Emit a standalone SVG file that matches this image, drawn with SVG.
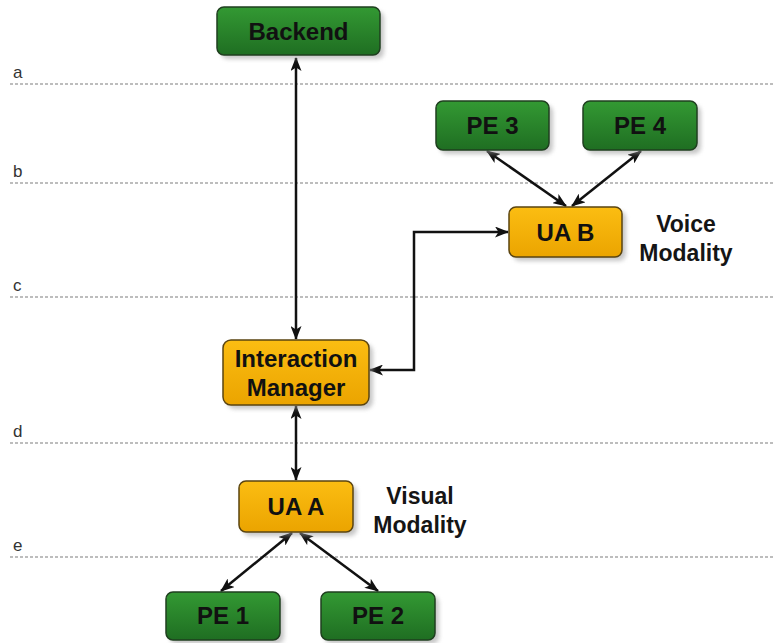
<svg xmlns="http://www.w3.org/2000/svg" width="775" height="643" viewBox="0 0 775 643">
<style>
.lvl{stroke:#a8a8a8;stroke-width:1.5;stroke-dasharray:3 2;fill:none}
.lbl{font-family:"Liberation Sans",Arial,sans-serif;font-size:17px;fill:#333}
.g{fill:url(#gg);stroke:#1f3f1f;stroke-width:1.5}
.o{fill:url(#og);stroke:#5a4410;stroke-width:1.5}
.sh{fill:#999;opacity:0.55;filter:url(#blur)}
.t{font-family:"Liberation Sans",Arial,sans-serif;font-weight:bold;font-size:24px;fill:#111;text-anchor:middle}
.m{font-family:"Liberation Sans",Arial,sans-serif;font-weight:bold;font-size:23px;fill:#151515;text-anchor:middle}
.c{stroke:#111;stroke-width:2.5;fill:none;marker-start:url(#ah);marker-end:url(#ah)}
</style>
<defs>
<linearGradient id="gg" x1="0" y1="0" x2="0" y2="1"><stop offset="0" stop-color="#339933"/><stop offset="1" stop-color="#1f6e22"/></linearGradient>
<linearGradient id="og" x1="0" y1="0" x2="0" y2="1"><stop offset="0" stop-color="#fbbd12"/><stop offset="1" stop-color="#eba400"/></linearGradient>
<filter id="blur" x="-10%" y="-10%" width="120%" height="130%"><feGaussianBlur stdDeviation="2"/></filter>
<marker id="ah" viewBox="0 0 14 11" refX="13" refY="5.5" markerWidth="14" markerHeight="11" markerUnits="userSpaceOnUse" orient="auto-start-reverse"><path d="M0,0 L14,5.5 L0,11 L3.5,5.5 Z" fill="#111"/></marker>
</defs>
<rect width="775" height="643" fill="#fff"/>
<g id="levels">
<line class="lvl" x1="10" y1="84" x2="775" y2="84"/>
<line class="lvl" x1="10" y1="183" x2="775" y2="183"/>
<line class="lvl" x1="10" y1="297" x2="775" y2="297"/>
<line class="lvl" x1="10" y1="443" x2="775" y2="443"/>
<line class="lvl" x1="10" y1="557" x2="775" y2="557"/>
<text class="lbl" x="13" y="78">a</text>
<text class="lbl" x="13" y="177">b</text>
<text class="lbl" x="13" y="291">c</text>
<text class="lbl" x="13" y="437">d</text>
<text class="lbl" x="13" y="551">e</text>
</g>
<g id="connectors">
<line class="c" x1="296" y1="58" x2="296" y2="339"/>
<line class="c" x1="296" y1="406" x2="296" y2="480"/>
<polyline class="c" points="508,232 414,232 414,370 370,370"/>
<line class="c" x1="487" y1="151" x2="566" y2="206"/>
<line class="c" x1="641" y1="151" x2="572" y2="206"/>
<line class="c" x1="292" y1="533" x2="221" y2="591"/>
<line class="c" x1="300" y1="533" x2="378" y2="591"/>
</g>
<g id="backend"><rect class="sh" x="221" y="11" width="163" height="48" rx="7"/><rect class="g" x="217" y="7" width="163" height="48" rx="7"/><text class="t" x="298.5" y="39.5">Backend</text></g>
<g id="pe3"><rect class="sh" x="440" y="105" width="113" height="49" rx="7"/><rect class="g" x="436" y="101" width="113" height="49" rx="7"/><text class="t" x="492.5" y="134">PE 3</text></g>
<g id="pe4"><rect class="sh" x="587" y="105" width="114" height="49" rx="7"/><rect class="g" x="583" y="101" width="114" height="49" rx="7"/><text class="t" x="640" y="134">PE 4</text></g>
<g id="uab"><rect class="sh" x="513" y="211" width="113" height="50" rx="7"/><rect class="o" x="509" y="207" width="113" height="50" rx="7"/><text class="t" x="565.5" y="240.5">UA B</text></g>
<g id="voice"><text class="m" x="686" y="232">Voice</text><text class="m" x="686" y="261">Modality</text></g>
<g id="im"><rect class="sh" x="227" y="344" width="146" height="65" rx="8"/><rect class="o" x="223" y="340" width="146" height="65" rx="8"/><text class="t" x="296" y="367">Interaction</text><text class="t" x="296" y="396">Manager</text></g>
<g id="uaa"><rect class="sh" x="243" y="485" width="114" height="51" rx="7"/><rect class="o" x="239" y="481" width="114" height="51" rx="7"/><text class="t" x="296" y="515">UA A</text></g>
<g id="visual"><text class="m" x="420" y="504">Visual</text><text class="m" x="420" y="533">Modality</text></g>
<g id="pe1"><rect class="sh" x="170" y="596" width="114" height="48" rx="7"/><rect class="g" x="166" y="592" width="114" height="48" rx="7"/><text class="t" x="223" y="624">PE 1</text></g>
<g id="pe2"><rect class="sh" x="325" y="596" width="114" height="48" rx="7"/><rect class="g" x="321" y="592" width="114" height="48" rx="7"/><text class="t" x="378" y="624">PE 2</text></g>
</svg>
